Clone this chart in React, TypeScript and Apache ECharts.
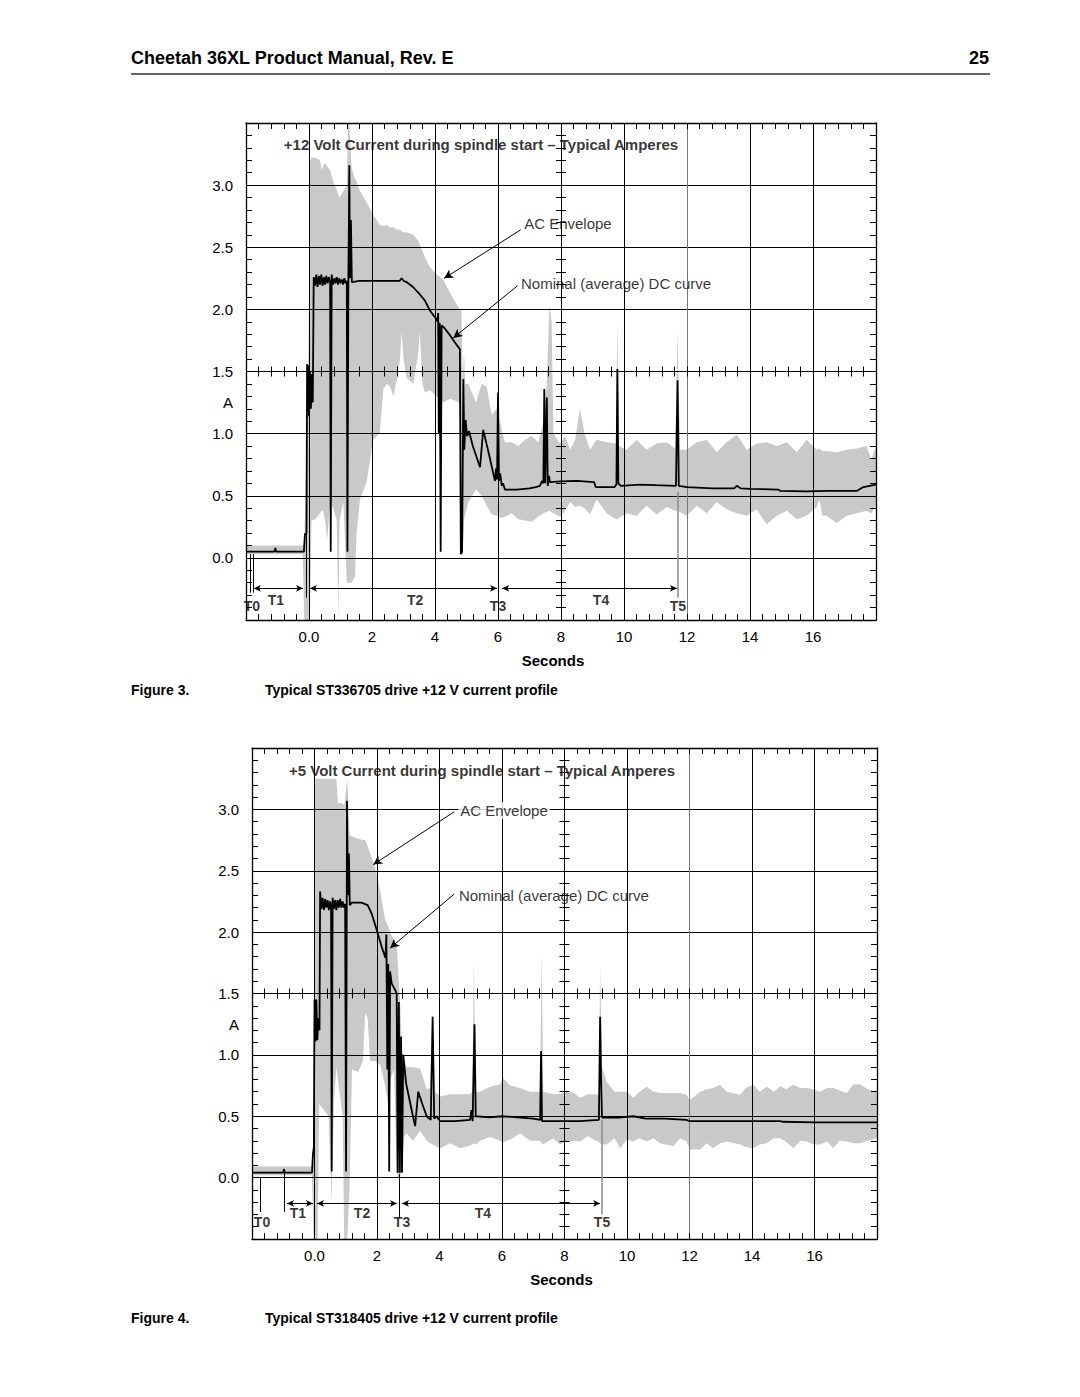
import React, { useEffect, useRef } from "react";
import * as echarts from "echarts";

const FONT = "'Liberation Sans', Arial, Helvetica, sans-serif";
const GRAY = "#c9c9c9";

const X_MIN = -2, X_MAX = 18, X_STEP = 2;
const Y_MIN = -0.5, Y_MAX = 3.5, Y_STEP = 0.5;

const X_TICK_LABELS: [number, string][] = [
  [0, "0.0"], [2, "2"], [4, "4"], [6, "6"], [8, "8"], [10, "10"], [12, "12"], [14, "14"], [16, "16"],
];
const Y_TICK_LABELS: [number, string][] = [
  [0, "0.0"], [0.5, "0.5"], [1, "1.0"], [1.25, "A"], [1.5, "1.5"], [2, "2.0"], [2.5, "2.5"], [3, "3.0"],
];
// vertical grid line colours, one per tick from -2 to 18 (the 12 s line is lighter)
const X_GRID_COLORS = ["#000", "#000", "#000", "#000", "#000", "#000", "#000", "#777", "#000", "#000", "#000"];

// ---------- Figure 3 : +12 V ----------
const dc12: [number, number][] = [
  [-2.0, 0.05], [-1.1, 0.05], [-1.07, 0.08], [-1.04, 0.05], [-0.16, 0.05], [-0.13, 0.19], [-0.08, 0.2],
  [-0.06, 1.56], [-0.04, 1.18], [-0.02, 1.55], [0.0, 1.14], [0.03, 1.5], [0.06, 1.2], [0.09, 1.48], [0.12, 1.25],
  [0.15, 2.26], [0.19, 2.19], [0.23, 2.28], [0.27, 2.18], [0.31, 2.27], [0.35, 2.2], [0.39, 2.28], [0.43, 2.19],
  [0.47, 2.26], [0.51, 2.2], [0.55, 2.27], [0.59, 2.21], [0.63, 2.26], [0.67, 2.22], [0.69, 0.05], [0.72, 2.28],
  [0.76, 2.2], [0.8, 2.25], [0.84, 2.21], [0.88, 2.26], [0.92, 2.2], [0.96, 2.25], [1.0, 2.21], [1.04, 2.24],
  [1.08, 2.2], [1.12, 2.25], [1.16, 2.21], [1.2, 2.23], [1.22, 0.05], [1.25, 2.22], [1.28, 3.16], [1.3, 2.25],
  [1.33, 2.72], [1.36, 2.22], [1.6, 2.23], [2.0, 2.23], [2.5, 2.23], [2.88, 2.23], [2.94, 2.25], [3.0, 2.23],
  [3.1, 2.22], [3.3, 2.18], [3.52, 2.12], [3.68, 2.07], [3.84, 1.99], [4.05, 1.92], [4.08, 1.9], [4.1, 1.97],
  [4.12, 1.0], [4.15, 1.89], [4.18, 0.05], [4.21, 1.87], [4.3, 1.85], [4.48, 1.79], [4.7, 1.71], [4.79, 1.68],
  [4.82, 0.03], [4.86, 0.05], [4.9, 1.44], [4.93, 0.87], [4.97, 1.11], [5.02, 0.98], [5.08, 1.02], [5.2, 0.9],
  [5.43, 0.73], [5.53, 1.03], [5.7, 0.85], [5.85, 0.68], [5.9, 0.62], [5.94, 0.72], [5.97, 0.63], [6.0, 1.33],
  [6.03, 0.62], [6.07, 0.68], [6.12, 0.58], [6.16, 0.6], [6.22, 0.55], [6.6, 0.55], [7.0, 0.56], [7.2, 0.57],
  [7.33, 0.58], [7.4, 0.62], [7.44, 0.6], [7.47, 1.36], [7.5, 0.6], [7.55, 1.29], [7.58, 0.58], [7.62, 0.66],
  [7.65, 0.61], [8.0, 0.615], [8.5, 0.62], [9.05, 0.61], [9.1, 0.57], [9.7, 0.57], [9.76, 0.59], [9.79, 1.52],
  [9.82, 0.6], [9.9, 0.58], [10.5, 0.59], [11.0, 0.585], [11.65, 0.58], [11.7, 1.43], [11.74, 0.58], [12.0, 0.57],
  [12.8, 0.56], [13.5, 0.56], [13.58, 0.58], [13.7, 0.56], [14.0, 0.555], [14.9, 0.55], [14.95, 0.54],
  [15.8, 0.535], [16.5, 0.54], [17.4, 0.54], [17.6, 0.57], [17.8, 0.58], [18.0, 0.59],
];

// [seconds, upper, lower]
const env12: [number, number, number][] = [
  [-2, 0.1, 0.03], [-0.2, 0.1, 0.03], [-0.15, 0.12, -0.5], [-0.02, 1.6, -0.5], [0.03, 3.19, -0.5],
  [0.08, 3.22, 0.3], [0.2, 3.22, 0.31], [0.35, 3.2, 0.36], [0.4, 3.12, 0.38], [0.45, 3.15, 0.38],
  [0.51, 3.18, 0.3], [0.58, 3.15, 0.15], [0.67, 3.12, 0.45], [0.77, 3.03, 0.4], [0.88, 2.96, 0.3],
  [0.93, 2.92, -0.5], [0.97, 2.9, 0.3], [1.09, 2.95, 0.45], [1.2, 3.0, -0.2], [1.24, 3.5, -0.2],
  [1.28, 3.5, -0.2], [1.35, 3.14, -0.2], [1.46, 3.05, -0.15], [1.51, 3.03, 0.2], [1.62, 2.95, 0.47],
  [1.83, 2.86, 0.61], [2.04, 2.76, 0.95], [2.25, 2.68, 1.01], [2.36, 2.67, 1.36], [2.47, 2.68, 1.4],
  [2.57, 2.66, 1.38], [2.68, 2.66, 1.3], [2.8, 2.64, 1.45], [2.89, 2.64, 1.6], [2.94, 2.63, 1.82],
  [3.0, 2.62, 1.6], [3.1, 2.62, 1.45], [3.31, 2.6, 1.4], [3.47, 2.55, 1.65], [3.52, 2.52, 1.82],
  [3.6, 2.47, 1.4], [3.68, 2.42, 1.33], [3.84, 2.34, 1.35], [4.05, 2.28, 1.3], [4.26, 2.24, 1.25],
  [4.48, 2.13, 1.28], [4.69, 2.04, 1.26], [4.8, 2.0, 1.24], [4.84, 1.99, 0.05], [4.88, 1.42, 0.03],
  [4.92, 1.65, 0.3], [4.96, 1.4, 0.35], [5.06, 1.4, 0.45], [5.3, 1.25, 0.55], [5.48, 1.4, 0.5],
  [5.64, 1.38, 0.42], [5.8, 1.15, 0.35], [5.96, 1.2, 0.34], [6.1, 1.05, 0.32], [6.22, 0.93, 0.33],
  [6.43, 0.93, 0.36], [6.65, 0.9, 0.31], [6.86, 0.95, 0.3], [7.07, 0.98, 0.29], [7.28, 0.93, 0.33],
  [7.45, 1.1, 0.36], [7.55, 1.4, 0.37], [7.63, 2.03, 0.38], [7.7, 1.9, 0.37], [7.76, 1.0, 0.36],
  [7.97, 0.92, 0.33], [8.13, 0.98, 0.38], [8.29, 0.87, 0.45], [8.45, 0.95, 0.41], [8.6, 1.2, 0.42],
  [8.75, 1.0, 0.4], [8.92, 0.87, 0.35], [9.13, 0.95, 0.47], [9.45, 0.93, 0.36], [9.74, 0.92, 0.31],
  [9.79, 1.9, 0.31], [9.84, 0.9, 0.32], [10.08, 0.87, 0.36], [10.4, 0.95, 0.34], [10.72, 0.87, 0.42],
  [11.04, 0.92, 0.35], [11.36, 0.93, 0.41], [11.62, 0.88, 0.38], [11.7, 1.82, 0.38], [11.78, 0.87, 0.37],
  [11.99, 0.87, 0.34], [12.31, 0.93, 0.42], [12.63, 0.95, 0.36], [12.94, 0.85, 0.45], [13.26, 0.93, 0.39],
  [13.58, 0.99, 0.36], [13.9, 0.87, 0.34], [14.21, 0.92, 0.39], [14.53, 0.93, 0.27], [14.85, 0.9, 0.34],
  [15.17, 0.93, 0.38], [15.48, 0.85, 0.31], [15.8, 0.95, 0.34], [16.12, 0.87, 0.41], [16.2, 0.88, 0.47],
  [16.3, 0.86, 0.34], [16.43, 0.86, 0.34], [16.75, 0.85, 0.28], [17.07, 0.87, 0.34], [17.39, 0.88, 0.36],
  [17.7, 0.9, 0.38], [17.85, 0.79, 0.36], [18.0, 0.9, 0.42],
];

// ---------- Figure 4 : +5 V ----------
const dc5: [number, number][] = [
  [-2.0, 0.04], [-1.0, 0.04], [-0.98, 0.07], [-0.95, 0.04], [-0.08, 0.04], [-0.05, 0.19], [-0.02, 0.25],
  [0.0, 1.45], [0.03, 1.11], [0.06, 1.45], [0.09, 1.12], [0.12, 1.3], [0.16, 1.2], [0.18, 2.33], [0.22, 2.19],
  [0.26, 2.28], [0.3, 2.18], [0.34, 2.27], [0.38, 2.2], [0.42, 2.26], [0.46, 2.18], [0.5, 2.25], [0.53, 2.22],
  [0.55, 0.05], [0.58, 2.28], [0.62, 2.19], [0.66, 2.26], [0.7, 2.18], [0.74, 2.26], [0.78, 2.2], [0.82, 2.27],
  [0.86, 2.2], [0.9, 2.25], [0.94, 2.2], [0.98, 2.23], [1.01, 0.05], [1.04, 3.07], [1.07, 2.3], [1.1, 2.64],
  [1.13, 2.22], [1.2, 2.24], [1.5, 2.24], [1.7, 2.22], [1.83, 2.15], [1.99, 2.02], [2.15, 1.88], [2.27, 1.79],
  [2.3, 1.98], [2.33, 0.88], [2.36, 1.74], [2.39, 0.05], [2.42, 1.68], [2.47, 1.58], [2.58, 1.53], [2.63, 1.5],
  [2.66, 0.04], [2.7, 1.43], [2.73, 0.04], [2.77, 1.15], [2.8, 0.04], [2.84, 1.0], [2.93, 0.77], [3.06, 0.61],
  [3.15, 0.5], [3.22, 0.42], [3.32, 0.7], [3.45, 0.6], [3.59, 0.5], [3.72, 0.47], [3.78, 1.31], [3.83, 0.48],
  [3.9, 0.5], [4.02, 0.46], [4.5, 0.46], [4.98, 0.47], [5.02, 0.55], [5.06, 0.46], [5.12, 1.25], [5.16, 0.5],
  [5.6, 0.49], [6.0, 0.5], [6.5, 0.49], [7.0, 0.48], [7.22, 0.47], [7.25, 1.03], [7.28, 0.46], [8.0, 0.46],
  [8.5, 0.46], [9.1, 0.47], [9.14, 1.31], [9.17, 0.81], [9.2, 0.49], [9.8, 0.49], [10.2, 0.5], [10.6, 0.48],
  [11.2, 0.48], [11.9, 0.47], [12.0, 0.46], [14.9, 0.46], [15.0, 0.455], [16.0, 0.45], [18.0, 0.45],
];

const env5: [number, number, number][] = [
  [-2, 0.09, 0.02], [-0.08, 0.09, 0.02], [-0.03, 0.3, -0.5], [0.02, 3.25, -0.5], [0.1, 3.25, -0.5],
  [0.15, 3.25, 0.6], [0.3, 3.25, 0.55], [0.45, 3.25, 0.5], [0.55, 3.25, -0.2], [0.62, 3.25, 0.6],
  [0.7, 3.25, 0.9], [0.75, 3.05, 0.8], [0.9, 3.05, 0.5], [0.95, 3.03, -0.5], [1.05, 3.25, -0.5],
  [1.12, 2.79, -0.1], [1.2, 2.78, 0.88], [1.4, 2.76, 0.86], [1.55, 2.75, 0.95], [1.62, 2.75, 1.34],
  [1.7, 2.7, 1.3], [1.78, 2.64, 0.95], [1.94, 2.53, 0.95], [2.1, 2.34, 0.92], [2.26, 2.1, 0.75],
  [2.35, 2.05, 0.6], [2.42, 2.0, 0.8], [2.55, 1.93, 0.88], [2.63, 1.9, 0.05], [2.68, 1.67, 0.0],
  [2.74, 1.42, 0.0], [2.8, 1.03, 0.1], [2.87, 0.95, 0.34], [2.95, 0.9, 0.36], [3.15, 0.9, 0.3],
  [3.38, 0.89, 0.38], [3.59, 0.72, 0.3], [3.7, 0.73, 0.28], [3.78, 1.35, 0.27], [3.86, 0.7, 0.26],
  [4.02, 0.66, 0.24], [4.34, 0.68, 0.28], [4.66, 0.68, 0.24], [4.98, 0.68, 0.26], [5.05, 0.7, 0.27],
  [5.1, 1.77, 0.28], [5.16, 0.7, 0.27], [5.3, 0.7, 0.3], [5.62, 0.74, 0.33], [5.94, 0.76, 0.3],
  [6.04, 0.81, 0.29], [6.26, 0.75, 0.31], [6.58, 0.73, 0.36], [6.9, 0.7, 0.3], [7.22, 0.7, 0.3],
  [7.27, 1.85, 0.28], [7.32, 0.7, 0.27], [7.64, 0.68, 0.32], [7.85, 0.68, 0.27], [8.07, 0.7, 0.295],
  [8.3, 0.69, 0.3], [8.5, 0.65, 0.295], [8.75, 0.68, 0.34], [9.0, 0.68, 0.3], [9.1, 0.68, 0.29],
  [9.14, 1.73, 0.28], [9.2, 0.9, 0.27], [9.35, 0.78, 0.27], [9.6, 0.7, 0.32], [9.78, 0.7, 0.24],
  [10.0, 0.7, 0.31], [10.2, 0.65, 0.295], [10.4, 0.7, 0.32], [10.63, 0.74, 0.295], [10.85, 0.7, 0.32],
  [11.06, 0.69, 0.28], [11.48, 0.69, 0.255], [11.7, 0.69, 0.32], [11.91, 0.675, 0.295], [12.0, 0.63, 0.23],
  [12.34, 0.7, 0.23], [12.55, 0.72, 0.28], [12.76, 0.73, 0.24], [12.98, 0.756, 0.28], [13.19, 0.7, 0.295],
  [13.62, 0.675, 0.27], [13.8, 0.73, 0.25], [14.04, 0.756, 0.24], [14.25, 0.7, 0.27], [14.47, 0.74, 0.28],
  [14.7, 0.7, 0.32], [14.9, 0.745, 0.32], [15.1, 0.72, 0.29], [15.32, 0.756, 0.24], [15.55, 0.73, 0.3],
  [15.75, 0.73, 0.295], [15.95, 0.72, 0.27], [16.18, 0.7, 0.27], [16.4, 0.73, 0.295], [16.6, 0.73, 0.24],
  [16.8, 0.71, 0.3], [17.03, 0.69, 0.295], [17.25, 0.76, 0.28], [17.46, 0.76, 0.28], [17.7, 0.72, 0.3],
  [18.0, 0.7, 0.32],
];

// annotation arrows: [x1, y1, x2, y2] (tail -> head)
const arrows12 = [[6.72, 2.64, 4.29, 2.25], [6.62, 2.19, 4.58, 1.77]];
const arrows5 = [[4.47, 2.98, 1.88, 2.55], [4.47, 2.31, 2.42, 1.87]];
// phase spans (double arrows): [start, end]
const phases12 = [[-1.75, -0.19], [0.03, 5.97], [6.13, 11.68]];
const phaseLevel12 = -0.245;
const phases5 = [[-0.88, -0.05], [0.08, 2.64], [2.8, 9.14]];
const phaseLevel5 = -0.21;
// phase marker lines: [x, yTop, yBottom, grey?]
const markers12 = [[-1.87, 0.03, -0.28, 0], [-1.78, 0.03, -0.28, 0], [-0.1, 0.2, -0.32, 0], [0.0, 0.0, -0.48, 0], [11.72, 0.53, -0.32, 1]];
const markers5 = [[-1.74, 0.0, -0.28, 0], [-0.98, 0.07, -0.28, 0], [2.7, 0.03, -0.33, 0], [9.2, 0.47, -0.3, 1]];
// phase labels: [text, x, y]
const tLabels12: [string, number, number][] = [["T0", -1.81, -0.39], ["T1", -1.05, -0.34], ["T2", 3.37, -0.34], ["T3", 6.0, -0.39], ["T4", 9.27, -0.34], ["T5", 11.71, -0.39]];
const tLabels5: [string, number, number][] = [["T0", -1.68, -0.36], ["T1", -0.53, -0.285], ["T2", 1.52, -0.285], ["T3", 2.8, -0.36], ["T4", 5.39, -0.285], ["T5", 9.2, -0.36]];
// text notes: [text, x, y, align, bold, whiteBg]
const notes12: [string, number, number, string, number, number][] = [
  ["+12 Volt Current during spindle start – Typical Amperes", 5.46, 3.33, "center", 1, 0],
  ["AC Envelope", 6.83, 2.69, "left", 0, 0],
  ["Nominal (average) DC curve", 6.73, 2.21, "left", 0, 0],
];
const notes5: [string, number, number, string, number, number][] = [
  ["+5 Volt Current during spindle start – Typical Amperes", 5.36, 3.32, "center", 1, 0],
  ["AC Envelope", 4.6, 2.99, "left", 0, 1],
  ["Nominal (average) DC curve", 4.62, 2.3, "left", 0, 0],
];

const PANELS = [
  { left: 246, top: 123, width: 630, height: 497, nameShift: 16, dc: dc12, env: env12, arrows: arrows12, phases: phases12, phaseLevel: phaseLevel12, markers: markers12, tLabels: tLabels12, notes: notes12 },
  { left: 252, top: 748, width: 625, height: 491, nameShift: 6, dc: dc5, env: env5, arrows: arrows5, phases: phases5, phaseLevel: phaseLevel5, markers: markers5, tLabels: tLabels5, notes: notes5 },
];

const lookup = (list: [number, string][]) => (v: number) => {
  const f = list.find(([k]) => Math.abs(k - v) < 1e-6);
  return f ? f[1] : "";
};

function buildOption() {
  const grid: any[] = [];
  const xAxis: any[] = [];
  const yAxis: any[] = [];
  const series: any[] = [];
  const black = "#000";
  const tl = { color: black, width: 1 };

  PANELS.forEach((p, g) => {
    grid.push({ left: p.left, top: p.top, width: p.width, height: p.height, containLabel: false, outerBoundsMode: "none" });
    const xc = { gridIndex: g, type: "value", min: X_MIN, max: X_MAX, interval: X_STEP, z: 3, silent: true };
    const yc = { gridIndex: g, type: "value", min: Y_MIN, max: Y_MAX, interval: Y_STEP, z: 3, silent: true };
    const noLabel = { show: false };
    xAxis.push(
      {
        ...xc, position: "bottom",
        axisLine: { show: true, onZero: false, lineStyle: { color: black, width: 1.3 } },
        axisTick: { show: true, inside: true, length: 6, lineStyle: tl },
        minorTick: { show: true, splitNumber: 5, length: 6, lineStyle: tl },
        splitLine: { show: true, lineStyle: { color: X_GRID_COLORS, width: 1 } },
        axisLabel: { show: true, margin: 9, color: black, fontFamily: FONT, fontSize: 15, formatter: lookup(X_TICK_LABELS) },
        name: "Seconds", nameLocation: "middle", nameGap: 33,
        nameTextStyle: { color: black, fontFamily: FONT, fontSize: 15, fontWeight: "bold", padding: [0, p.nameShift, 0, 0] },
      },
      {
        ...xc, position: "top",
        axisLine: { show: true, onZero: false, lineStyle: { color: black, width: 1.3 } },
        axisTick: { show: true, inside: true, length: 6, lineStyle: tl },
        minorTick: { show: true, splitNumber: 5, length: 6, lineStyle: tl },
        splitLine: { show: false }, axisLabel: noLabel,
      },
      {
        ...xc, position: "bottom", offset: -p.height / 2,
        axisLine: { show: false, onZero: false },
        axisTick: { show: true, inside: true, length: 5, lineStyle: tl },
        minorTick: { show: true, splitNumber: 5, length: 5, lineStyle: tl },
        splitLine: { show: false }, axisLabel: noLabel,
      },
      {
        ...xc, position: "bottom", offset: -p.height / 2,
        axisLine: { show: false, onZero: false },
        axisTick: { show: true, inside: false, length: 5, lineStyle: tl },
        minorTick: { show: true, splitNumber: 5, length: 5, lineStyle: tl },
        splitLine: { show: false }, axisLabel: noLabel,
      }
    );
    yAxis.push(
      {
        ...yc, position: "left",
        axisLine: { show: true, onZero: false, lineStyle: { color: black, width: 1.3 } },
        axisTick: { show: true, inside: true, length: 6, lineStyle: tl },
        minorTick: { show: true, splitNumber: 5, length: 6, lineStyle: tl },
        splitLine: { show: true, lineStyle: { color: black, width: 1 } },
        axisLabel: noLabel,
      },
      {
        ...yc, position: "right",
        axisLine: { show: true, onZero: false, lineStyle: { color: black, width: 1.3 } },
        axisTick: { show: true, inside: true, length: 6, lineStyle: tl },
        minorTick: { show: true, splitNumber: 5, length: 6, lineStyle: tl },
        splitLine: { show: false }, axisLabel: noLabel,
      },
      {
        ...yc, position: "left", offset: -p.width / 2,
        axisLine: { show: false, onZero: false },
        axisTick: { show: true, inside: true, length: 5, lineStyle: tl },
        minorTick: { show: true, splitNumber: 5, length: 5, lineStyle: tl },
        splitLine: { show: false }, axisLabel: noLabel,
      },
      {
        ...yc, position: "left", offset: -p.width / 2,
        axisLine: { show: false, onZero: false },
        axisTick: { show: true, inside: false, length: 5, lineStyle: tl },
        minorTick: { show: true, splitNumber: 5, length: 5, lineStyle: tl },
        splitLine: { show: false }, axisLabel: noLabel,
      },
      {
        ...yc, position: "left", interval: 0.25,
        axisLine: { show: false, onZero: false }, axisTick: { show: false },
        splitLine: { show: false },
        axisLabel: { show: true, margin: 13, color: black, fontFamily: FONT, fontSize: 15, formatter: lookup(Y_TICK_LABELS) },
      }
    );

    const xi = g * 4, yi = g * 5;
    const env = p.env;
    series.push({
      type: "custom", xAxisIndex: xi, yAxisIndex: yi, z: 1, silent: true,
      data: [[env[0][0], env[0][1]]],
      renderItem: (_params: any, api: any) => {
        const upper = env.map((e) => api.coord([e[0], e[1]]));
        const lower = env.slice().reverse().map((e) => api.coord([e[0], e[2]]));
        return { type: "polygon", shape: { points: upper.concat(lower) }, style: { fill: GRAY, stroke: null } };
      },
    });

    const ml: any[] = [];
    p.arrows.forEach(([x1, y1, x2, y2]) =>
      ml.push([{ coord: [x1, y1], symbol: "none" }, { coord: [x2, y2], symbol: "arrow", symbolSize: [7, 9] }])
    );
    p.phases.forEach(([a, b]) =>
      ml.push([
        { coord: [a, p.phaseLevel], symbol: "arrow", symbolSize: [5, 7] },
        { coord: [b, p.phaseLevel], symbol: "arrow", symbolSize: [5, 7] },
      ])
    );
    p.markers.forEach(([x, y1, y2, grey]) =>
      ml.push([
        { coord: [x, y1], symbol: "none", lineStyle: { color: grey ? "#8a8a8a" : black, width: grey ? 1.5 : 1, type: "solid" } },
        { coord: [x, y2], symbol: "none" },
      ])
    );

    series.push({
      type: "line", xAxisIndex: xi, yAxisIndex: yi, data: p.dc, symbol: "none", showSymbol: false,
      lineStyle: { color: black, width: 1.8 }, z: 4, silent: true,
      markLine: {
        silent: true, animation: false, label: { show: false },
        lineStyle: { color: black, width: 1, type: "solid" },
        emphasis: { disabled: true },
        data: ml,
      },
    });

    const labelData: any[] = [];
    p.tLabels.forEach(([t, x, y]) =>
      labelData.push({
        value: [x, y],
        label: { show: true, formatter: t, position: "inside", align: "center", verticalAlign: "middle", color: black, fontFamily: FONT, fontSize: 14, fontWeight: "bold" },
      })
    );
    p.notes.forEach(([t, x, y, align, bold, bg]) =>
      labelData.push({
        value: [x, y],
        label: {
          show: true, formatter: t, position: "inside", align, verticalAlign: "middle", color: black,
          fontFamily: FONT, fontSize: 15, fontWeight: bold ? "bold" : "normal",
          backgroundColor: bg ? "#fff" : "transparent", padding: bg ? [1, 2] : 0,
        },
      })
    );
    series.push({
      type: "scatter", xAxisIndex: xi, yAxisIndex: yi, data: labelData, symbolSize: 1,
      itemStyle: { color: "rgba(0,0,0,0)" }, z: 6, silent: true,
    });
  });

  const txt = (x: number, y: number, text: string, font: string, align = "left") => ({
    type: "text", x, y, silent: true,
    style: { text, font, fill: "#000", align, textAlign: align, verticalAlign: "middle", textVerticalAlign: "middle" },
  });

  const graphic = [
    txt(131, 58, "Cheetah 36XL Product Manual, Rev. E", `bold 18px ${FONT}`),
    txt(989, 58, "25", `bold 18px ${FONT}`, "right"),
    { type: "line", silent: true, shape: { x1: 131, y1: 74, x2: 990, y2: 74 }, style: { stroke: "#666", lineWidth: 2 } },
    txt(131, 690, "Figure 3.", `bold 14px ${FONT}`),
    txt(265, 690, "Typical ST336705 drive +12 V current profile", `bold 14px ${FONT}`),
    txt(131, 1318, "Figure 4.", `bold 14px ${FONT}`),
    txt(265, 1318, "Typical ST318405 drive +12 V current profile", `bold 14px ${FONT}`),
  ];

  return { animation: false, backgroundColor: "#fff", grid, xAxis, yAxis, series, graphic, tooltip: { show: false } };
}

export default function App() {
  const ref = useRef<HTMLDivElement | null>(null);
  useEffect(() => {
    document.body.style.margin = "0";
    document.body.style.overflow = "hidden";
    if (!ref.current) return;
    const chart = echarts.init(ref.current, undefined, { renderer: "svg" });
    chart.setOption(buildOption() as any);
    return () => chart.dispose();
  }, []);
  return <div ref={ref} style={{ position: "absolute", left: 0, top: 0, width: 1080, height: 1397, background: "#fff" }} />;
}
